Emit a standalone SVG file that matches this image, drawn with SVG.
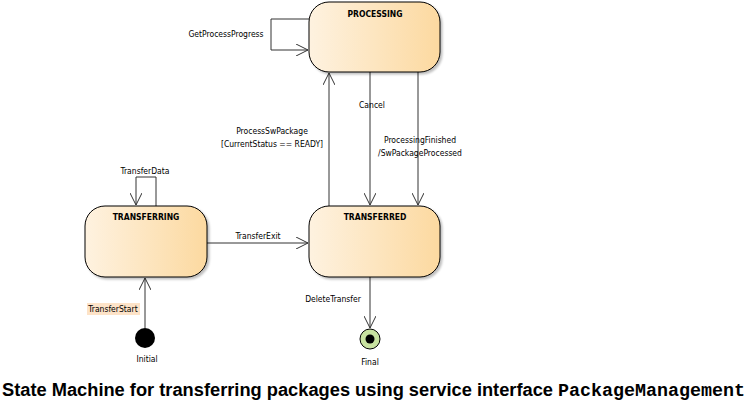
<svg xmlns="http://www.w3.org/2000/svg" width="746" height="401" viewBox="0 0 746 401">
<style>
.st{stroke:#000;stroke-width:1;fill:url(#g)}
.t{font-family:"DejaVu Sans Condensed","DejaVu Sans",sans-serif;font-size:8.5px;fill:#000}
.tb{font-family:"DejaVu Sans Condensed","DejaVu Sans",sans-serif;font-size:8.5px;font-weight:bold;fill:#000}
.c{fill:none;stroke:#333;stroke-width:1}
</style>
<defs>
<linearGradient id="g" x1="0" y1="0" x2="1" y2="0">
<stop offset="0" stop-color="#fef2e0"/>
<stop offset="1" stop-color="#fcd9a0"/>
</linearGradient>
<marker id="a" viewBox="0 0 12 12" refX="12" refY="6" markerWidth="12" markerHeight="12" markerUnits="userSpaceOnUse" orient="auto">
<path d="M0,0 L12,6 L0,12" fill="none" stroke="#333" stroke-width="1"/>
</marker>
<filter id="sh" x="-10%" y="-10%" width="130%" height="130%">
<feDropShadow dx="2" dy="2" stdDeviation="1" flood-color="#000" flood-opacity="0.25"/>
</filter>
</defs>
<rect width="746" height="401" fill="#fff"/>
<g id="connectors">
<path class="c" d="M309,19 H271 V50 H308" marker-end="url(#a)"/>
<text class="t" x="226" y="37" text-anchor="middle">GetProcessProgress</text>
<path class="c" d="M156,206 V177 H136 V205" marker-end="url(#a)"/>
<text class="t" x="145" y="174" text-anchor="middle">TransferData</text>
<path class="c" d="M329,206 V73" marker-end="url(#a)"/>
<text class="t" x="272" y="134" text-anchor="middle">ProcessSwPackage</text>
<text class="t" x="272" y="147" text-anchor="middle">[CurrentStatus == READY]</text>
<path class="c" d="M370,72 V205" marker-end="url(#a)"/>
<text class="t" x="372" y="108" text-anchor="middle">Cancel</text>
<path class="c" d="M418,72 V205" marker-end="url(#a)"/>
<text class="t" x="420" y="143" text-anchor="middle">ProcessingFinished</text>
<text class="t" x="420" y="156" text-anchor="middle">/SwPackageProcessed</text>
<path class="c" d="M207,243 H308" marker-end="url(#a)"/>
<text class="t" x="258" y="239" text-anchor="middle">TransferExit</text>
<path class="c" d="M145,328 V278" marker-end="url(#a)"/>
<rect x="87" y="303" width="53" height="12" fill="#fde3c8"/>
<text class="t" x="113" y="312" text-anchor="middle">TransferStart</text>
<path class="c" d="M370,277 V328" marker-end="url(#a)"/>
<text class="t" x="333" y="302" text-anchor="middle">DeleteTransfer</text>
</g>
<g id="processing">
<rect class="st" x="309" y="2" width="131" height="70" rx="20" ry="20" filter="url(#sh)"/>
<text class="tb" x="375" y="17" text-anchor="middle">PROCESSING</text>
</g>
<g id="transferring">
<rect class="st" x="85" y="206" width="122" height="71" rx="20" ry="20" filter="url(#sh)"/>
<text class="tb" x="146" y="220" text-anchor="middle">TRANSFERRING</text>
</g>
<g id="transferred">
<rect class="st" x="309" y="206" width="131" height="71" rx="20" ry="20" filter="url(#sh)"/>
<text class="tb" x="375" y="220" text-anchor="middle">TRANSFERRED</text>
</g>
<g id="initial">
<circle cx="145" cy="338" r="10" fill="#000"/>
<text class="t" x="147" y="362" text-anchor="middle">Initial</text>
</g>
<g id="final">
<circle cx="370" cy="339" r="10" fill="#c8e2a0" stroke="#000" stroke-width="1"/>
<circle cx="370" cy="339" r="4.5" fill="#000"/>
<text class="t" x="370" y="365" text-anchor="middle">Final</text>
</g>
<g id="caption">
<text x="2" y="396" font-family="Liberation Sans,Arial,sans-serif" font-weight="bold" font-size="18" textLength="551" lengthAdjust="spacingAndGlyphs">State Machine for transferring packages using service interface</text>
<text x="558" y="396" font-family="Liberation Mono,Courier New,monospace" font-weight="bold" font-size="18" textLength="187" lengthAdjust="spacingAndGlyphs">PackageManagement</text>
</g>
</svg>
